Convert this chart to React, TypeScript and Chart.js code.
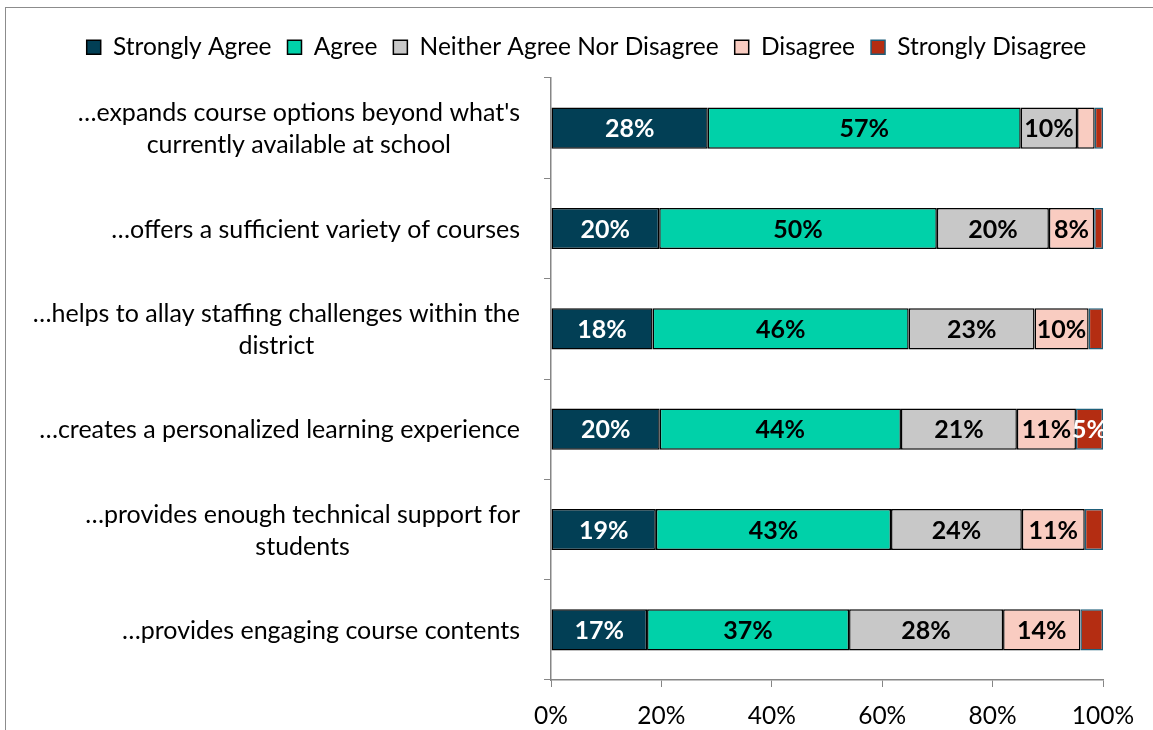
import React, { useEffect, useRef } from 'react';
import { Chart, registerables } from 'chart.js';

Chart.register(...registerables);

// ---- data ----
const categories: string[][] = [
  ["…expands course options beyond what's", 'currently available at school'],
  ['…offers a sufficient variety of courses'],
  ['…helps to allay staffing challenges within the', 'district'],
  ['…creates a personalized learning experience'],
  ['…provides enough technical support for', 'students'],
  ['…provides engaging course contents'],
];
const seriesNames = ['Strongly Agree', 'Agree', 'Neither Agree Nor Disagree', 'Disagree', 'Strongly Disagree'];
const stronglyAgree = [28.4, 19.6, 18.4, 19.7, 19.0, 17.4];
const agree = [56.7, 50.3, 46.4, 43.7, 42.6, 36.6];
const neither = [10.2, 20.3, 22.8, 21.0, 23.7, 27.9];
const disagree = [3.2, 8.2, 9.8, 10.7, 11.4, 14.0];
const stronglyDisagree = [1.5, 1.6, 2.6, 4.9, 3.3, 4.1];
const xTickStep = 20;
const xMax = 100;

// ---- styles ----
const FONT = 'Lato';
const FS = 24.5;
const CAT_FS = 25;
const VAL_FS = 25;
const fillColors = ['#023F55', '#00D1A9', '#C8C8C8', '#F9CCC1', '#B42D12'];
const borderColors = ['#000000', '#000000', '#000000', '#000000', '#1F5F7A'];
const labelColors = ['#FFFFFF', '#000000', '#000000', '#000000', '#FFFFFF'];
const AXIS = '#868686';
const LEGEND_EXTRA = 8.5;

const legendSpacePlugin = {
  id: 'legendSpace',
  beforeInit(chart: any) {
    const lg = chart.legend;
    if (!lg) return;
    const orig = lg.fit.bind(lg);
    lg.fit = () => {
      orig();
      lg.height += LEGEND_EXTRA;
    };
  },
};

const valueLabelPlugin = {
  id: 'valueLabels',
  afterDatasetsDraw(chart: any) {
    const ctx = chart.ctx;
    ctx.save();
    ctx.font = `bold ${VAL_FS}px ${FONT}`;
    ctx.textAlign = 'center';
    ctx.textBaseline = 'middle';
    chart.data.datasets.forEach((ds: any, i: number) => {
      const meta = chart.getDatasetMeta(i);
      meta.data.forEach((bar: any, j: number) => {
        const v = ds.data[j];
        if (v < 4.5) return;
        const p = bar.getProps(['x', 'y', 'base'], true);
        ctx.fillStyle = labelColors[i];
        ctx.fillText(Math.round(v) + '%', (p.x + p.base) / 2, p.y + 1);
      });
    });
    ctx.restore();
  },
};

const yLabelPlugin = {
  id: 'yLabels',
  afterDraw(chart: any) {
    const ctx = chart.ctx;
    const y = chart.scales.y;
    const right = chart.chartArea.left - 31;
    const lh = 32;
    ctx.save();
    ctx.font = `${CAT_FS}px ${FONT}`;
    ctx.fillStyle = '#000';
    ctx.textAlign = 'center';
    ctx.textBaseline = 'middle';
    categories.forEach((lines, i) => {
      const w = Math.max(...lines.map((l) => ctx.measureText(l).width));
      const cx = right - w / 2;
      const cy = y.getPixelForValue(i) + 1;
      lines.forEach((l, k) => {
        ctx.fillText(l, cx, cy + (k - (lines.length - 1) / 2) * lh);
      });
    });
    ctx.restore();
  },
};

export default function App() {
  const ref = useRef<HTMLCanvasElement>(null);
  useEffect(() => {
    const series = [stronglyAgree, agree, neither, disagree, stronglyDisagree];
    const chart = new Chart(ref.current as HTMLCanvasElement, {
      type: 'bar',
      data: {
        labels: categories.map((c) => c.join(' ')),
        datasets: series.map((d, i) => ({
          label: seriesNames[i],
          data: d,
          backgroundColor: fillColors[i],
          borderColor: borderColors[i],
          borderWidth: 1.5,
          borderSkipped: false,
          barPercentage: 0.41,
          categoryPercentage: 1,
        })),
      },
      options: {
        indexAxis: 'y',
        responsive: false,
        animation: false,
        layout: { padding: { left: 40, right: 20, top: 19, bottom: 0 } },
        plugins: {
          legend: {
            position: 'top',
            labels: {
              boxWidth: 14,
              boxHeight: 14,
              padding: 16,
              color: '#000',
              font: { family: FONT, size: FS },
            },
          },
          tooltip: { enabled: false },
        },
        scales: {
          x: {
            stacked: true,
            min: 0,
            max: xMax,
            ticks: {
              stepSize: xTickStep,
              callback: (v: any) => v + '%',
              color: '#000',
              font: { family: FONT, size: FS },
              padding: 14,
            },
            grid: { drawOnChartArea: false, drawTicks: true, tickLength: 7, color: AXIS },
            border: { color: AXIS, width: 1.5 },
            afterFit: (s: any) => {
              s.height = 50;
              s.paddingRight = 50;
            },
          },
          y: {
            stacked: true,
            ticks: { display: false },
            grid: { drawOnChartArea: false, drawTicks: true, tickLength: 7, color: AXIS, offset: true },
            border: { color: AXIS, width: 1.5 },
            afterFit: (s: any) => {
              s.width = 511;
              s.paddingTop = 0;
            },
          },
        },
      },
      plugins: [legendSpacePlugin, valueLabelPlugin, yLabelPlugin],
    } as any);
    return () => chart.destroy();
  }, []);

  return (
    <div style={{ position: 'fixed', left: 0, top: 0, width: 1153, height: 730, overflow: 'hidden', background: '#fff' }}>
      <div
        style={{
          position: 'absolute',
          left: 5,
          top: 7,
          width: 1300,
          height: 900,
          border: '1px solid #8C8C8C',
        }}
      />
      <canvas ref={ref} width={1153} height={730} style={{ position: 'absolute', left: 0, top: 0, display: 'block' }} />
    </div>
  );
}
